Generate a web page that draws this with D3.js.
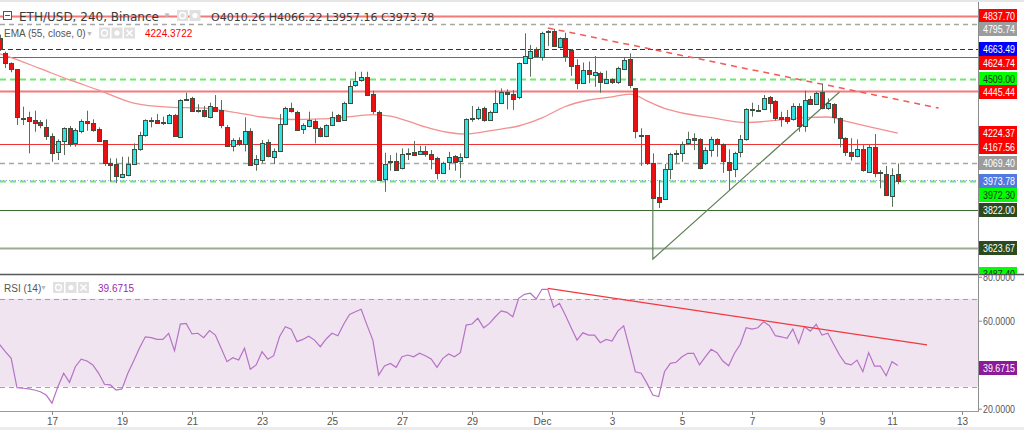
<!DOCTYPE html>
<html>
<head>
<meta charset="utf-8">
<script src="https://cdn.jsdelivr.net/npm/d3@7"></script>
<style>
html, body { margin: 0; padding: 0; background: #fff; }
svg { display: block; font-family: "Liberation Sans", Arial, sans-serif; }
</style>
</head>
<body>
<div id="chart"></div>
<script>
// ETH/USD 4h bars, first visible bar Nov 15 2021 12:00 UTC
const firstBar = Date.UTC(2021, 10, 15, 12)
const barMs = 4 * 3600 * 1000

// [open, high, low, close]
const ohlc = [
	[4722, 4740, 4655, 4665], [4643, 4651, 4565, 4593], [4590, 4595, 4543, 4559], [4559, 4560, 4267, 4307],
	[4300, 4363, 4267, 4304], [4307, 4337, 4119, 4284], [4293, 4342, 4232, 4279], [4283, 4293, 4250, 4266],
	[4255, 4297, 4189, 4206], [4210, 4224, 4075, 4119], [4124, 4192, 4084, 4184], [4180, 4255, 4110, 4250],
	[4253, 4262, 4154, 4168], [4175, 4250, 4154, 4241], [4237, 4297, 4224, 4288], [4288, 4342, 4237, 4276],
	[4276, 4297, 4232, 4241], [4248, 4255, 4180, 4184], [4189, 4189, 4053, 4067], [4070, 4093, 3971, 4060],
	[4063, 4093, 3963, 4001], [3994, 4101, 3989, 4011], [4007, 4101, 3999, 4063], [4063, 4171, 4058, 4141],
	[4140, 4232, 4132, 4215], [4215, 4297, 4206, 4293], [4291, 4307, 4255, 4295], [4293, 4325, 4275, 4276],
	[4285, 4311, 4267, 4281], [4276, 4325, 4272, 4318], [4318, 4325, 4206, 4210], [4206, 4402, 4203, 4398],
	[4400, 4436, 4394, 4404], [4410, 4415, 4337, 4340], [4347, 4376, 4332, 4344], [4346, 4367, 4307, 4314],
	[4311, 4384, 4302, 4367], [4363, 4424, 4337, 4342], [4346, 4398, 4250, 4266], [4257, 4267, 4154, 4158],
	[4158, 4198, 4129, 4189], [4189, 4203, 4158, 4168], [4171, 4307, 4129, 4237], [4237, 4250, 4053, 4058],
	[4063, 4110, 4028, 4088], [4088, 4189, 4067, 4175], [4180, 4192, 4098, 4105], [4101, 4145, 4063, 4131],
	[4131, 4325, 4127, 4271], [4271, 4363, 4267, 4355], [4355, 4384, 4332, 4337], [4337, 4342, 4241, 4245],
	[4245, 4276, 4220, 4267], [4262, 4337, 4255, 4293], [4288, 4297, 4171, 4250], [4250, 4258, 4203, 4206],
	[4206, 4271, 4203, 4266], [4267, 4337, 4262, 4311], [4320, 4325, 4285, 4290], [4297, 4389, 4290, 4384],
	[4384, 4499, 4381, 4471], [4476, 4546, 4467, 4499], [4499, 4546, 4494, 4517], [4520, 4546, 4419, 4424],
	[4429, 4447, 4325, 4342], [4337, 4342, 3980, 3980], [3983, 4122, 3918, 4063], [4073, 4110, 4028, 4077],
	[4081, 4122, 4028, 4032], [4041, 4145, 4035, 4115], [4117, 4145, 4084, 4121], [4124, 4184, 4105, 4110],
	[4115, 4158, 4110, 4132], [4131, 4158, 4101, 4115], [4115, 4136, 4035, 4091], [4096, 4101, 3983, 4019],
	[4017, 4075, 4011, 4067], [4070, 4127, 4032, 4098], [4105, 4110, 4028, 4075], [4075, 4119, 3989, 4098],
	[4098, 4302, 4093, 4297], [4300, 4367, 4284, 4304], [4300, 4363, 4293, 4349], [4355, 4363, 4284, 4293],
	[4293, 4342, 4290, 4337], [4337, 4450, 4332, 4384], [4384, 4459, 4381, 4441], [4441, 4454, 4349, 4429],
	[4429, 4450, 4346, 4405], [4412, 4594, 4402, 4591], [4591, 4747, 4586, 4629], [4617, 4686, 4520, 4656],
	[4664, 4674, 4622, 4629], [4625, 4755, 4604, 4750], [4753, 4764, 4681, 4757], [4761, 4770, 4677, 4681],
	[4674, 4726, 4668, 4721], [4721, 4750, 4598, 4629], [4660, 4664, 4524, 4576], [4581, 4611, 4454, 4486],
	[4489, 4594, 4486, 4555], [4555, 4599, 4486, 4534], [4529, 4628, 4467, 4543], [4538, 4546, 4436, 4489],
	[4486, 4551, 4482, 4507], [4507, 4512, 4482, 4489], [4489, 4573, 4482, 4564], [4559, 4622, 4555, 4607],
	[4611, 4642, 4459, 4476], [4459, 4459, 4197, 4232], [4211, 4250, 4053, 4215], [4215, 4215, 4058, 4067],
	[4067, 4119, 3880, 3884], [3893, 3980, 3833, 3867], [3880, 4063, 3875, 4035], [4035, 4122, 3983, 4115],
	[4117, 4136, 4067, 4121], [4119, 4180, 4075, 4168], [4171, 4232, 4162, 4194], [4200, 4224, 4136, 4189],
	[4194, 4198, 4035, 4041], [4067, 4150, 4058, 4136], [4136, 4206, 4101, 4194], [4194, 4198, 4101, 4168],
	[4166, 4171, 4017, 4075], [4075, 4140, 3927, 4035], [4035, 4127, 3994, 4119], [4122, 4215, 4098, 4192],
	[4192, 4355, 4185, 4349], [4349, 4384, 4311, 4342], [4344, 4372, 4337, 4348], [4349, 4424, 4346, 4407],
	[4412, 4419, 4332, 4381], [4394, 4398, 4290, 4307], [4311, 4337, 4258, 4302], [4307, 4346, 4272, 4284],
	[4297, 4381, 4290, 4367], [4367, 4381, 4232, 4262], [4262, 4447, 4232, 4398], [4402, 4419, 4372, 4377],
	[4377, 4441, 4372, 4436], [4441, 4482, 4349, 4355], [4355, 4407, 4346, 4381], [4376, 4381, 4276, 4307],
	[4302, 4307, 4150, 4197], [4197, 4203, 4105, 4122], [4127, 4198, 4081, 4105], [4105, 4192, 4098, 4140],
	[4140, 4162, 4023, 4028], [4023, 4162, 4017, 4154], [4150, 4220, 3994, 4014], [4019, 4032, 3936, 4015],
	[4011, 4053, 3896, 3901], [3896, 4041, 3839, 4006], [4010.26, 4066.22, 3957.16, 3973.78],
]

// RSI(14), one value per bar
const rsi = [
	49.3, 45.9, 42.9, 29.5, 29.3, 29.0, 28.5, 27.7, 26.2, 22.5, 30.0, 36.1, 32.0, 39.1, 42.5, 41.7, 39.9, 36.1, 31.1, 30.8,
	28.5, 29.0, 36.1, 41.7, 47.6, 52.7, 52.3, 51.5, 51.5, 54.3, 46.4, 58.5, 58.8, 54.0, 54.3, 52.3, 55.5, 53.5, 47.5, 41.4,
	43.2, 42.1, 47.5, 37.9, 39.9, 45.9, 42.5, 44.1, 52.7, 57.3, 56.2, 50.5, 51.5, 53.0, 51.2, 48.2, 51.7, 54.3, 53.2, 58.4,
	62.9, 64.1, 65.2, 58.0, 51.2, 35.3, 39.4, 40.6, 38.8, 43.6, 44.4, 43.6, 45.2, 44.1, 42.6, 38.8, 42.9, 44.9, 43.6, 45.5,
	58.0, 58.5, 61.1, 56.8, 58.8, 61.8, 64.5, 63.8, 61.8, 70.2, 72.0, 72.5, 69.9, 74.3, 74.3, 66.1, 67.9, 62.6, 56.8, 51.2,
	54.5, 53.5, 53.5, 50.0, 51.5, 50.8, 55.3, 57.7, 47.5, 36.8, 36.1, 31.5, 26.2, 25.5, 36.8, 40.6, 41.1, 43.6, 45.2, 45.2,
	39.9, 43.6, 47.0, 45.5, 41.7, 39.5, 45.2, 49.3, 56.8, 56.2, 56.8, 59.5, 57.7, 53.2, 52.7, 52.0, 56.2, 49.7, 57.3, 55.3,
	58.4, 53.5, 54.3, 49.3, 44.4, 40.6, 39.9, 42.1, 36.8, 45.5, 39.4, 39.4, 35.0, 41.4, 39.6715,
]

// EMA(55): [bar index, value]
const ema = [
	[0, 4640], [2, 4620], [7, 4562], [12, 4503], [17, 4450], [23, 4382], [29, 4361], [35, 4356], [40, 4335],
	[45, 4309], [50, 4296], [55, 4299], [61, 4314], [64, 4322], [67, 4314], [70, 4288], [73, 4257], [77, 4228],
	[80, 4220], [83, 4231], [86, 4246], [89, 4262], [93, 4304], [97, 4364], [101, 4398], [105, 4414], [108, 4429],
	[109, 4424], [111, 4393], [114, 4354], [117, 4330], [122, 4306], [128, 4280], [133, 4291], [138, 4306],
	[142, 4309], [145, 4288], [149, 4259], [154, 4224.37],
]

// horizontal levels drawn on the chart
const levels = [
	{ price: 4837.7, kind: 'resLight' },
	{ price: 4795.74, kind: 'grey' },
	{ price: 4663.49, kind: 'blue' },
	{ price: 4624.74, kind: 'res' },
	{ price: 4509.0, kind: 'lime' },
	{ price: 4445.44, kind: 'resLight' },
	{ price: 4167.56, kind: 'res' },
	{ price: 4069.4, kind: 'grey' },
	{ price: 3972.3, kind: 'lime' },
	{ price: 3822.0, kind: 'sup' },
	{ price: 3623.67, kind: 'supLight' },
	{ price: 3487.4, kind: 'lime' },
]
const lastClose = 3973.78
const emaLast = 4224.3722
const rsiLast = 39.6715
const legendOHLC = ['O4010.26', 'H4066.22', 'L3957.16', 'C3973.78']

// drawings
const priceTrendDown = [['2021-12-01T04:00Z', 4775], ['2021-12-12T08:00Z', 4356]]
const priceTrendUp = [['2021-12-04T04:00Z', 3884], ['2021-12-04T04:00Z', 3566], ['2021-12-09T12:00Z', 4440]]
const rsiTrend = [['2021-12-01T04:00Z', 74.7], ['2021-12-12T00:00Z', 49.0]]

// scale ticks (the others sit under the coloured price labels)
const priceTicks = [3600, 3800, 4000, 4400]
const rsiTicks = [20, 60, 80]
const dayTicks = ['2021-11-17', '2021-11-19', '2021-11-21', '2021-11-23', '2021-11-25', '2021-11-27', '2021-11-29',
	'2021-12-01', '2021-12-03', '2021-12-05', '2021-12-07', '2021-12-09', '2021-12-11', '2021-12-13']

// ---- layout
const W = 1024, H = 430
const plotRight = 978
const priceTop = 3, priceBottom = 273
const rsiTop = 275, rsiBottom = 411

const x = d3.scaleUtc().domain([Date.UTC(2021, 10, 17), Date.UTC(2021, 11, 1)]).range([52, 542])
const y = d3.scaleLinear().domain([3493, 4895]).range([273, 5])
const yRsi = d3.scaleLinear().domain([18.95, 80.8]).range([rsiBottom, rsiTop])
const barX = (i) => x(new Date(firstBar + i * barMs))

const lineStyles = {
	res: { stroke: '#f03434', width: 1, dash: null },
	resLight: { stroke: '#f47a7a', width: 2, dash: null },
	grey: { stroke: '#a6a6a6', width: 1.5, dash: '5,4' },
	blue: { stroke: '#1a1aff', width: 1, dash: '5,3' },
	lime: { stroke: '#6fe86f', width: 2, dash: '6,4' },
	sup: { stroke: '#3d6a2f', width: 1, dash: null },
	supLight: { stroke: '#98ac92', width: 2, dash: null },
}
const labelStyles = {
	res: ['#ff0000', '#fff'],
	resLight: ['#ff0000', '#fff'],
	grey: ['#9c9c9c', '#fff'],
	blue: ['#0000ff', '#fff'],
	lime: ['#00ff00', '#1e2e1e'],
	sup: ['#2c4a20', '#fff'],
	supLight: ['#2c4a20', '#fff'],
}
const scaleFont = '"Liberation Sans", Arial, sans-serif'

const svg = d3.select('#chart').append('svg').attr('width', W).attr('height', H)

const defs = svg.append('defs')
defs.append('clipPath').attr('id', 'clipPrice').append('rect')
	.attr('x', 0).attr('y', priceTop).attr('width', plotRight).attr('height', priceBottom - priceTop)
defs.append('clipPath').attr('id', 'clipRsi').append('rect')
	.attr('x', 0).attr('y', rsiTop).attr('width', plotRight).attr('height', rsiBottom - rsiTop)
defs.append('clipPath').attr('id', 'clipScale').append('rect')
	.attr('x', plotRight).attr('y', 0).attr('width', W - plotRight).attr('height', priceBottom + 1)

svg.append('rect').attr('width', W).attr('height', H).attr('fill', '#fff')
svg.append('rect').attr('width', W).attr('height', 2).attr('fill', '#e6e6e6')
svg.append('rect').attr('y', 427).attr('width', W).attr('height', 3).attr('fill', '#ececec')

// ---- price pane
const pricePane = svg.append('g').attr('clip-path', 'url(#clipPrice)')

pricePane.selectAll('.level')
	.data(levels)
	.enter()
	.append('line')
	.attr('class', 'level')
	.attr('x1', 0)
	.attr('x2', plotRight)
	.attr('y1', (d) => Math.round(y(d.price)) + 0.5)
	.attr('y2', (d) => Math.round(y(d.price)) + 0.5)
	.style('stroke', (d) => lineStyles[d.kind].stroke)
	.style('stroke-width', (d) => lineStyles[d.kind].width)
	.style('stroke-dasharray', (d) => lineStyles[d.kind].dash)

//Last price line
pricePane.append('line')
	.attr('x1', 0).attr('x2', plotRight)
	.attr('y1', Math.round(y(lastClose)) - 0.5).attr('y2', Math.round(y(lastClose)) - 0.5)
	.style('stroke', '#8aa2e8').style('stroke-dasharray', '1,2')

//EMA
const emaLine = d3.line()
	.x((d) => barX(d[0]))
	.y((d) => y(d[1]))
	.curve(d3.curveMonotoneX)
pricePane.append('path')
	.attr('d', emaLine(ema))
	.style('fill', 'none')
	.style('stroke', '#f39090')
	.style('stroke-width', 1.3)

//Trend lines
const drawLine = d3.line()
	.x((d) => x(new Date(d[0])))
	.y((d) => y(d[1]))
pricePane.append('path')
	.attr('d', drawLine(priceTrendDown))
	.style('fill', 'none')
	.style('stroke', '#f25a5a')
	.style('stroke-width', 1.5)
	.style('stroke-dasharray', '6,5')
pricePane.append('path')
	.attr('d', drawLine(priceTrendUp))
	.style('fill', 'none')
	.style('stroke', '#62805a')
	.style('stroke-width', 1.2)

//Candles
const candles = pricePane.selectAll('.candle')
	.data(ohlc)
	.enter()
	.append('g')
	.attr('class', 'candle')

candles.append('line')
	.attr('x1', (d, i) => Math.round(barX(i)) + 0.5)
	.attr('x2', (d, i) => Math.round(barX(i)) + 0.5)
	.attr('y1', (d) => y(d[1]))
	.attr('y2', (d) => y(d[2]))
	.style('stroke', '#5c6f5f')
	.style('stroke-width', 1)

candles.append('rect')
	.attr('x', (d, i) => Math.round(barX(i)) - 1.5)
	.attr('width', 4)
	.attr('y', (d) => Math.round(y(Math.max(d[0], d[3]))) + 0.5)
	.attr('height', (d) => Math.max(1, Math.round(Math.abs(y(d[0]) - y(d[3])))))
	.style('fill', (d) => (d[3] >= d[0] ? '#2fe3e3' : '#e81010'))
	.style('stroke', '#3e4f42')
	.style('stroke-width', 1)

// ---- RSI pane
const rsiPane = svg.append('g').attr('clip-path', 'url(#clipRsi)')

rsiPane.append('rect')
	.attr('x', 0).attr('width', plotRight)
	.attr('y', yRsi(70)).attr('height', yRsi(30) - yRsi(70))
	.style('fill', '#f1e4f1')

rsiPane.selectAll('.band')
	.data([70, 30])
	.enter()
	.append('line')
	.attr('x1', 0).attr('x2', plotRight)
	.attr('y1', (d) => Math.round(yRsi(d)) + 0.5)
	.attr('y2', (d) => Math.round(yRsi(d)) + 0.5)
	.style('stroke', '#a89ea8')
	.style('stroke-width', 1.2)
	.style('stroke-dasharray', '5,4')

const rsiLine = d3.line()
	.x((d, i) => barX(i))
	.y((d) => yRsi(d))
rsiPane.append('path')
	.attr('d', rsiLine(rsi))
	.style('fill', 'none')
	.style('stroke', '#b672c6')
	.style('stroke-width', 1.2)

rsiPane.append('path')
	.attr('d', d3.line().x((d) => x(new Date(d[0]))).y((d) => yRsi(d[1]))(rsiTrend))
	.style('fill', 'none')
	.style('stroke', '#f0393f')
	.style('stroke-width', 1.2)

// ---- frame
svg.append('line')
	.attr('x1', 0).attr('x2', W).attr('y1', 274.5).attr('y2', 274.5)
	.style('stroke', '#5a5a5a').style('stroke-width', 1.5)
svg.append('line')
	.attr('x1', plotRight + 0.5).attr('x2', plotRight + 0.5).attr('y1', 2).attr('y2', rsiBottom)
	.style('stroke', '#8c8c8c')
svg.append('line')
	.attr('x1', 0).attr('x2', plotRight + 1).attr('y1', rsiBottom + 0.5).attr('y2', rsiBottom + 0.5)
	.style('stroke', '#9a9a9a')

// ---- axes
const styleAxis = (g, size, squeeze) => {
	g.select('.domain').remove()
	g.selectAll('.tick line').style('stroke', '#8c8c8c')
	const t = g.selectAll('.tick text')
		.style('font-family', scaleFont)
		.style('font-size', size + 'px')
		.style('fill', '#555')
	if (squeeze) t.attr('textLength', squeeze).attr('lengthAdjust', 'spacingAndGlyphs')
}

svg.append('g')
	.attr('transform', `translate(${plotRight},0)`)
	.attr('clip-path', 'url(#clipScale)')
	.call(d3.axisRight(y).tickValues(priceTicks).tickFormat(d3.format('.2f')).tickSize(4).tickPadding(1))
	.call(styleAxis, 11, 32)

svg.append('g')
	.attr('transform', `translate(${plotRight},0)`)
	.call(d3.axisRight(yRsi).tickValues(rsiTicks).tickFormat(d3.format('.4f')).tickSize(4).tickPadding(1))
	.call(styleAxis, 11, 32)

svg.append('g')
	.attr('transform', `translate(0,${rsiBottom})`)
	.call(
		d3.axisBottom(x)
			.tickValues(dayTicks.map((d) => new Date(d + 'T00:00Z')))
			.tickFormat((d) => (d.getUTCDate() === 1 ? 'Dec' : d.getUTCDate()))
			.tickSize(4)
			.tickPadding(3)
	)
	.call(styleAxis, 10)

// ---- price scale labels, pushed down when they would overlap
const scaleLabels = levels.map((d) => ({ price: d.price, bg: labelStyles[d.kind][0], fg: labelStyles[d.kind][1] }))
scaleLabels.push({ price: lastClose, bg: '#5279df', fg: '#fff', first: true })
scaleLabels.push({ price: emaLast, bg: '#ff0000', fg: '#fff' })
scaleLabels.sort((a, b) => b.price - a.price || (b.first ? 1 : 0) - (a.first ? 1 : 0))
let prevY = -100
scaleLabels.forEach((d) => {
	d.ly = Math.max(y(d.price), prevY + 13.5)
	prevY = d.ly
})

const labelGroup = svg.append('g').attr('clip-path', 'url(#clipScale)')
const lab = labelGroup.selectAll('.scaleLabel')
	.data(scaleLabels)
	.enter()
	.append('g')
	.attr('class', 'scaleLabel')
	.attr('transform', (d) => `translate(${plotRight + 1},${Math.round(d.ly)})`)
lab.append('rect')
	.attr('x', 0).attr('y', -7).attr('width', 38).attr('height', 14)
	.style('fill', (d) => d.bg)
lab.append('text')
	.attr('x', 4).attr('y', 4)
	.attr('textLength', 32)
	.attr('lengthAdjust', 'spacingAndGlyphs')
	.style('font-family', scaleFont)
	.style('font-size', '11px')
	.style('fill', (d) => d.fg)
	.text((d) => d3.format('.2f')(d.price))

const rsiLab = svg.append('g').attr('transform', `translate(${plotRight + 1},${Math.round(yRsi(rsiLast)) + 3})`)
rsiLab.append('rect').attr('x', 0).attr('y', -7).attr('width', 38).attr('height', 14).style('fill', '#8b1b9b')
rsiLab.append('text')
	.attr('x', 4).attr('y', 4)
	.attr('textLength', 32)
	.attr('lengthAdjust', 'spacingAndGlyphs')
	.style('font-family', scaleFont)
	.style('font-size', '11px')
	.style('fill', '#fff')
	.text(d3.format('.4f')(rsiLast))

// ---- legends
const icons = (g, x0, yc, names) => {
	names.forEach((name, i) => {
		const ix = x0 + i * 12.5
		g.append('rect').attr('x', ix).attr('y', yc - 5.5).attr('width', 11).attr('height', 11).style('fill', '#e0e0e0')
		if (name === 'eye') {
			g.append('circle').attr('cx', ix + 5.5).attr('cy', yc).attr('r', 3).style('fill', 'none').style('stroke', '#fff').style('stroke-width', 1.3)
		} else if (name === 'gear') {
			g.append('circle').attr('cx', ix + 5.5).attr('cy', yc).attr('r', 2.6).style('fill', '#fff')
		} else {
			g.append('path').attr('d', `M${ix + 2.5},${yc - 3}L${ix + 8.5},${yc + 3}M${ix + 8.5},${yc - 3}L${ix + 2.5},${yc + 3}`)
				.style('stroke', '#fff').style('stroke-width', 1.5)
		}
	})
}

const header = svg.append('g')
header.append('rect').attr('x', 3.5).attr('y', 11.5).attr('width', 8).attr('height', 8)
	.style('fill', '#fff').style('stroke', '#555')
header.append('line').attr('x1', 5).attr('x2', 10).attr('y1', 15.5).attr('y2', 15.5).style('stroke', '#555')
header.append('text')
	.attr('x', 19).attr('y', 20.5)
	.style('font-family', '"DejaVu Sans", Verdana, sans-serif')
	.style('font-size', '12px')
	.style('fill', '#3a3a3a')
	.text('ETH/USD, 240, Binance')
header.append('text').attr('x', 163).attr('y', 18).style('font-size', '8px').style('fill', '#bbb').text('▼')
icons(header, 177, 15.5, ['eye', 'gear'])
header.append('text')
	.attr('x', 211).attr('y', 20.5)
	.style('font-family', '"DejaVu Sans", Verdana, sans-serif')
	.style('font-size', '11px')
	.style('fill', '#3a3a3a')
	.text(legendOHLC.join(' '))

const emaLegend = svg.append('g')
emaLegend.append('text')
	.attr('x', 4).attr('y', 37)
	.style('font-size', '10px').style('fill', '#555')
	.text('EMA (55, close, 0)')
emaLegend.append('text').attr('x', 86).attr('y', 36).style('font-size', '7px').style('fill', '#bbb').text('▼')
icons(emaLegend, 99, 33, ['eye', 'gear', 'x'])
emaLegend.append('text')
	.attr('x', 145).attr('y', 37)
	.style('font-size', '10px').style('fill', '#ff0000')
	.text(d3.format('.4f')(emaLast))

const rsiLegend = svg.append('g')
rsiLegend.append('text')
	.attr('x', 4).attr('y', 291.5)
	.style('font-size', '10px').style('fill', '#555')
	.text('RSI (14)')
rsiLegend.append('text').attr('x', 40).attr('y', 290).style('font-size', '7px').style('fill', '#bbb').text('▼')
icons(rsiLegend, 53, 287.5, ['eye', 'gear', 'x'])
rsiLegend.append('text')
	.attr('x', 98).attr('y', 291.5)
	.style('font-size', '10px').style('fill', '#9c2aa8')
	.text(d3.format('.4f')(rsiLast))
</script>
</body>
</html>
